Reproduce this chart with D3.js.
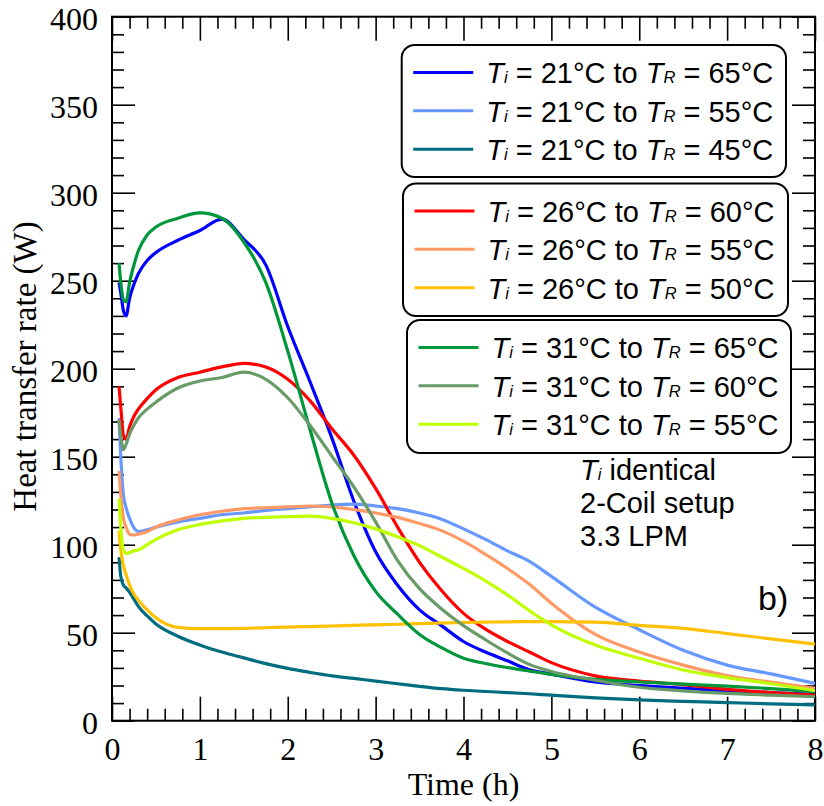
<!DOCTYPE html>
<html>
<head>
<meta charset="utf-8">
<script src="https://cdn.jsdelivr.net/npm/d3@7"></script>
<style>
  html, body { margin: 0; padding: 0; background: #fff; }
  svg text { white-space: pre; }
</style>
</head>
<body>
<svg id="chart" width="824" height="806"></svg>
<script>
// Sampling times (h) shared by all runs
const hours = [0.08, 0.1, 0.13, 0.16, 0.2, 0.25, 0.3, 0.4, 0.5, 0.75, 1.0, 1.25, 1.5, 1.75, 2.0, 2.25,
  2.5, 2.75, 3.0, 3.25, 3.5, 3.75, 4.0, 4.25, 4.5, 4.75, 5.0, 5.5, 6.0, 6.5, 7.0, 7.5, 8.0];

// Heat transfer rate (W) for each run
const q21to65 = [249, 243, 233, 230, 240, 248, 254, 261.5, 266, 273, 278.5, 285, 273.5, 259, 224, 193,
  161, 125, 96, 77, 63, 54, 45, 39, 34, 29, 26.5, 22, 20, 18.5, 17, 16, 15];
const q21to55 = [172, 150, 128, 121, 115, 109.5, 107.5, 108.5, 110, 113, 115, 117, 118, 119.5, 120.5, 121.5,
  122.5, 123, 122, 120.5, 118, 114.5, 109, 103, 96.5, 90.5, 82, 64.5, 51.7, 40, 31.6, 26.6, 21.2];
const q21to45 = [93, 82, 77, 75.5, 73, 69, 65, 59.5, 55, 48, 43, 39, 35.7, 32.4, 29.7, 27.5,
  25.5, 24, 22.5, 21, 19.5, 18.2, 17.3, 16.6, 16, 15.3, 14.5, 13, 11.8, 11, 10.3, 9.6, 9];
const q26to60 = [190, 178, 162, 160, 167, 173, 177, 183, 188, 195, 198, 201, 203, 201, 194, 182,
  166, 151, 132, 110, 90, 74, 61, 52, 45, 39, 33, 25.5, 22.5, 20.5, 17.8, 16, 14.6];
const q26to55 = [142, 128, 115, 110, 106, 105.5, 106, 107.5, 110, 114, 117, 119, 120.5, 121, 121.5, 122,
  121.5, 120, 118, 115.5, 112, 108, 102, 94.5, 86.5, 77.5, 66.7, 49, 39, 31.6, 25.6, 21.9, 18.4];
const q26to50 = [108, 97, 88, 83, 77, 72, 68.5, 63, 58.5, 53, 52.3, 52.3, 52.5, 52.8, 53.2, 53.5,
  53.8, 54.2, 54.5, 54.8, 55.2, 55.5, 55.8, 56, 56.2, 56.3, 56.3, 56, 54.2, 52.5, 49.5, 46.5, 43.5];
const q31to65 = [260, 249, 239, 238, 249, 259, 267, 276, 280.5, 285.5, 288.5, 285.5, 272, 249, 210, 166,
  124, 94, 73.5, 60.5, 49, 41.5, 35.5, 32.5, 30.2, 28.2, 26.3, 23.5, 22, 20.8, 19.6, 18.2, 16.5];
const q31to60 = [171, 162, 154, 157, 163, 168, 172, 177, 181, 189, 193, 195, 198, 194, 183.5, 168,
  150.5, 133, 113, 91, 75, 63.5, 54, 46, 38.5, 32, 28, 23, 19, 17, 15.5, 14.5, 13.6];
const q31to55 = [126, 110, 97, 95, 95.5, 96.5, 97, 100, 103, 108.5, 111.5, 113.5, 115, 115.5, 116, 116.2,
  115, 112.5, 109, 104.5, 99.5, 93, 86.5, 79.5, 71.5, 62.5, 54.5, 43, 35.5, 28.8, 24.5, 21, 17];

// Run labels: initial tank temperature and return temperature (°C)
const initialTemps = ["21", "21", "21", "26", "26", "26", "31", "31", "31"];
const returnTemps = ["65", "55", "45", "60", "55", "50", "65", "60", "55"];
const seriesColors = ["#0000ff", "#6698ff", "#006c80", "#ff0000", "#ff9966", "#ffc000",
  "#00973a", "#699b69", "#c0ff00"];
const seriesValues = [q21to65, q21to55, q21to45, q26to60, q26to55, q26to50, q31to65, q31to60, q31to55];

// Axis ticks
const xMajorTicks = [0, 1, 2, 3, 4, 5, 6, 7, 8];
const yMajorTicks = [0, 50, 100, 150, 200, 250, 300, 350, 400];

const notes = ["identical", "2-Coil setup", "3.3 LPM"];
const panelTag = "b)";

const svg = d3.select("#chart");
const plotL = 112, plotR = 815, plotT = 16.7, plotB = 720.7;
const x = d3.scaleLinear().domain([0, 8]).range([plotL, plotR]);
const y = d3.scaleLinear().domain([0, 400]).range([plotB, plotT]);

const serif = "'Liberation Serif', 'Times New Roman', serif";
const sans = "'Liberation Sans', Arial, sans-serif";

const xMinor = d3.range(0, 8.0001, 0.2).filter(v => Math.abs(v - Math.round(v)) > 1e-6);
const yMinor = d3.range(0, 400.0001, 10).filter(v => v % 50 !== 0);

function styleAxis(g) {
  g.select(".domain").remove();
  g.selectAll(".tick line").attr("stroke", "#000").attr("stroke-width", 1.6);
  g.selectAll(".tick text").attr("fill", "#000").style("font-family", serif).style("font-size", "32px");
}

// Bottom axis
svg.append("g").attr("transform", `translate(0,${plotB})`)
  .call(d3.axisBottom(x).tickValues(xMajorTicks).tickFormat(d3.format("d"))
    .tickSize(-24).tickSizeOuter(0).tickPadding(17))
  .call(styleAxis);
svg.append("g").attr("transform", `translate(0,${plotB})`)
  .call(d3.axisBottom(x).tickValues(xMinor).tickFormat("").tickSize(-12).tickSizeOuter(0))
  .call(styleAxis);
// Top axis
svg.append("g").attr("transform", `translate(0,${plotT})`)
  .call(d3.axisTop(x).tickValues(xMajorTicks).tickFormat("").tickSize(-24).tickSizeOuter(0))
  .call(styleAxis);
svg.append("g").attr("transform", `translate(0,${plotT})`)
  .call(d3.axisTop(x).tickValues(xMinor).tickFormat("").tickSize(-12).tickSizeOuter(0))
  .call(styleAxis);
// Left axis
svg.append("g").attr("transform", `translate(${plotL},0)`)
  .call(d3.axisLeft(y).tickValues(yMajorTicks).tickFormat(d3.format("d"))
    .tickSize(-23).tickSizeOuter(0).tickPadding(14))
  .call(styleAxis)
  .call(g => g.selectAll(".tick text").attr("dy", "0.39em"));
svg.append("g").attr("transform", `translate(${plotL},0)`)
  .call(d3.axisLeft(y).tickValues(yMinor).tickFormat("").tickSize(-12).tickSizeOuter(0))
  .call(styleAxis);
// Right axis
svg.append("g").attr("transform", `translate(${plotR},0)`)
  .call(d3.axisRight(y).tickValues(yMajorTicks).tickFormat("").tickSize(-23).tickSizeOuter(0))
  .call(styleAxis);
svg.append("g").attr("transform", `translate(${plotR},0)`)
  .call(d3.axisRight(y).tickValues(yMinor).tickFormat("").tickSize(-12).tickSizeOuter(0))
  .call(styleAxis);

// Plot frame
svg.append("rect")
  .attr("x", plotL).attr("y", plotT).attr("width", plotR - plotL).attr("height", plotB - plotT)
  .attr("fill", "none").attr("stroke", "#000").attr("stroke-width", 2);

// Axis titles
svg.append("text")
  .attr("x", (plotL + plotR) / 2).attr("y", 795)
  .attr("text-anchor", "middle")
  .style("font-family", serif).style("font-size", "32px")
  .text("Time (h)");
svg.append("text")
  .attr("transform", "translate(36,366.5) rotate(-90)")
  .attr("text-anchor", "middle")
  .style("font-family", serif).style("font-size", "33px")
  .text("Heat transfer rate (W)");

// Curves
const line = d3.line()
  .x((d, i) => x(hours[i]))
  .y(d => y(d))
  .curve(d3.curveMonotoneX);

svg.append("g").selectAll("path")
  .data(seriesValues)
  .join("path")
  .attr("d", d => line(d))
  .attr("fill", "none")
  .attr("stroke", (d, i) => seriesColors[i])
  .attr("stroke-width", 3.2)
  .attr("stroke-linejoin", "round");

// Legend: three boxes of three runs each
const boxes = [
  { x: 401.7, y: 45, w: 384.3, h: 132 },
  { x: 403, y: 183.5, w: 385, h: 132.5 },
  { x: 407, y: 320, w: 384, h: 133 }
];
const rowGap = 38.4;
const legend = svg.append("g");
boxes.forEach((b, bi) => {
  legend.append("rect")
    .attr("x", b.x).attr("y", b.y).attr("width", b.w).attr("height", b.h)
    .attr("rx", 13).attr("ry", 13)
    .attr("fill", "#fff").attr("stroke", "#000").attr("stroke-width", 2);
  for (let k = 0; k < 3; k++) {
    const s = bi * 3 + k;
    const ry = b.y + 27.4 + k * rowGap;
    legend.append("line")
      .attr("x1", b.x + 11.5).attr("x2", b.x + 71.5)
      .attr("y1", ry).attr("y2", ry)
      .attr("stroke", seriesColors[s]).attr("stroke-width", 3);
    const t = legend.append("text")
      .attr("x", b.x + 84.5).attr("y", ry + 11)
      .style("font-family", sans).style("font-size", "29px").attr("fill", "#000");
    t.append("tspan").style("font-style", "italic").text("T");
    t.append("tspan").style("font-style", "italic").style("font-size", "16.5px").text("i");
    t.append("tspan").text(` = ${initialTemps[s]}°C to `);
    t.append("tspan").style("font-style", "italic").text("T");
    t.append("tspan").style("font-style", "italic").style("font-size", "16.5px").text("R");
    t.append("tspan").text(` = ${returnTemps[s]}°C`);
  }
});

// Test conditions note
const note = svg.append("g").style("font-family", sans).style("font-size", "29px");
notes.forEach((n, i) => {
  const t = note.append("text").attr("x", 580).attr("y", 480 + i * 33);
  if (i === 0) {
    t.append("tspan").style("font-style", "italic").text("T");
    t.append("tspan").style("font-style", "italic").style("font-size", "16.5px").text("i");
    t.append("tspan").text(" " + n);
  } else {
    t.text(n);
  }
});

svg.append("text")
  .attr("x", 758).attr("y", 610)
  .style("font-family", sans).style("font-size", "34px")
  .text(panelTag);
</script>
</body>
</html>
